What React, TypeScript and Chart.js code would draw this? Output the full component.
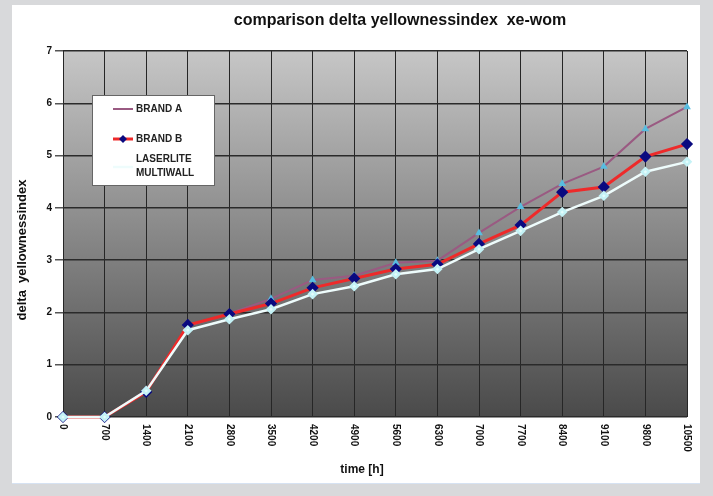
import React, { useEffect, useRef } from "react";
import { Chart, registerables } from "chart.js";

Chart.register(...registerables);

const chartTitle = "comparison delta yellownessindex  xe-wom";
const yAxisTitle = "delta  yellownessindex";
const xAxisTitle = "time [h]";

const categories = ["0", "700", "1400", "2100", "2800", "3500", "4200", "4900", "5600", "6300", "7000", "7700", "8400", "9100", "9800", "10500"];
const brandA = [0, 0, 0.5, 1.74, 1.98, 2.26, 2.62, 2.7, 2.95, 2.99, 3.52, 4.02, 4.46, 4.79, 5.51, 5.93];
const brandB = [0, 0, 0.48, 1.76, 1.97, 2.17, 2.47, 2.65, 2.83, 2.92, 3.31, 3.67, 4.3, 4.4, 4.98, 5.22];
const laserlite = [0, 0, 0.5, 1.66, 1.87, 2.06, 2.35, 2.5, 2.73, 2.83, 3.21, 3.56, 3.92, 4.23, 4.69, 4.88];
const seriesLabels = ["BRAND A", "BRAND B", "LASERLITE MULTIWALL"];
const yTicks = [0, 1, 2, 3, 4, 5, 6, 7];

const FONT = "'Liberation Sans', Arial, sans-serif";

const decor = {
  id: "decor",
  beforeDraw(chart: any) {
    const { ctx, chartArea: a } = chart;
    const g = ctx.createLinearGradient(0, a.top, 0, a.bottom);
    g.addColorStop(0, "#c6c6c6");
    g.addColorStop(1, "#4a4a4a");
    ctx.save();
    ctx.fillStyle = g;
    ctx.fillRect(a.left, a.top, a.right - a.left, a.bottom - a.top);
    ctx.restore();
  },
  afterDraw(chart: any) {
    const { ctx, chartArea: a } = chart;
    const xs = chart.scales.x;
    ctx.save();
    ctx.fillStyle = "#111";
    ctx.font = `bold 16px ${FONT}`;
    ctx.textAlign = "center";
    ctx.textBaseline = "middle";
    ctx.fillText(chartTitle, 388, 16);
    ctx.save();
    ctx.translate(10, 245);
    ctx.rotate(-Math.PI / 2);
    ctx.font = `bold 13px ${FONT}`;
    ctx.fillText(yAxisTitle, 0, 0);
    ctx.restore();
    ctx.font = `bold 12px ${FONT}`;
    ctx.fillText(xAxisTitle, 350, 465);
    ctx.font = `bold 10px ${FONT}`;
    ctx.textAlign = "left";
    categories.forEach((c, i) => {
      const x = xs.getPixelForValue(i);
      ctx.save();
      ctx.translate(x, a.bottom + 7);
      ctx.rotate(Math.PI / 2);
      ctx.fillText(c, 0, 0);
      ctx.restore();
    });
    const L = 80, T = 90, W = 122, H = 90;
    ctx.fillStyle = "#fff";
    ctx.fillRect(L, T, W, H);
    ctx.strokeStyle = "#666";
    ctx.lineWidth = 1;
    ctx.strokeRect(L + 0.5, T + 0.5, W, H);
    const rows = [104, 134, 162];
    chart.data.datasets.forEach((ds: any, i: number) => {
      const y = rows[i];
      ctx.strokeStyle = ds.borderColor;
      ctx.lineWidth = ds.borderWidth;
      ctx.beginPath();
      ctx.moveTo(L + 21, y);
      ctx.lineTo(L + 41, y);
      ctx.stroke();
      if (i === 1) {
        ctx.fillStyle = ds.pointBackgroundColor;
        ctx.beginPath();
        ctx.moveTo(L + 31, y - 4);
        ctx.lineTo(L + 35, y);
        ctx.lineTo(L + 31, y + 4);
        ctx.lineTo(L + 27, y);
        ctx.closePath();
        ctx.fill();
      }
      ctx.fillStyle = "#222";
      ctx.font = `bold 10px ${FONT}`;
      ctx.textAlign = "left";
      ctx.textBaseline = "middle";
      const parts = String(ds.label).split(" ");
      if (parts.length > 1 && i === 2) {
        ctx.fillText(parts[0], L + 44, y - 8);
        ctx.fillText(parts.slice(1).join(" "), L + 44, y + 6);
      } else {
        ctx.fillText(ds.label, L + 44, y);
      }
    });
    ctx.restore();
  },
};

export default function App() {
  const ref = useRef<HTMLCanvasElement | null>(null);
  useEffect(() => {
    if (!ref.current) return;
    const chart = new Chart(ref.current, {
      type: "line",
      data: {
        labels: categories,
        datasets: [
          {
            label: seriesLabels[0],
            data: brandA,
            borderColor: "#9a5a82",
            borderWidth: 2,
            pointStyle: "triangle",
            pointRadius: 2.5,
            pointBackgroundColor: "#58bde0",
            pointBorderColor: "#58bde0",
            clip: false,
            order: 2,
          } as any,
          {
            label: seriesLabels[1],
            data: brandB,
            borderColor: "#ee2a2a",
            borderWidth: 3,
            pointStyle: "rectRot",
            pointRadius: 4,
            pointBackgroundColor: "#0a0a80",
            pointBorderColor: "#0a0a80",
            clip: false,
            order: 1,
          },
          {
            label: seriesLabels[2],
            data: laserlite,
            borderColor: "#eefcfc",
            borderWidth: 2.5,
            pointStyle: "rectRot",
            pointRadius: 3.5,
            pointBackgroundColor: "#e4fcfc",
            pointBorderColor: "#c4f2f6",
            clip: false,
            order: 0,
          },
        ],
      },
      options: {
        responsive: false,
        animation: false,
        devicePixelRatio: 1,
        layout: { padding: { top: 46, right: 13, left: 0, bottom: 0 } },
        plugins: { legend: { display: false }, title: { display: false }, tooltip: { enabled: false } },
        elements: { line: { tension: 0 } },
        scales: {
          x: {
            type: "category",
            offset: false,
            ticks: { display: false },
            grid: { color: "#262626", lineWidth: 1, drawTicks: false },
            border: { display: false },
            afterFit: (s: any) => {
              s.height = 66;
            },
          },
          y: {
            min: 0,
            max: 7,
            afterBuildTicks: (s: any) => {
              s.ticks = yTicks.map((v) => ({ value: v }));
            },
            ticks: { color: "#111", font: { family: FONT, weight: "bold", size: 10 }, padding: 3 },
            grid: { color: "#2a2a2a", lineWidth: 1.5, tickLength: 8, tickColor: "#555" },
            border: { display: false },
            afterFit: (s: any) => {
              s.width = 51;
            },
          },
        },
      },
      plugins: [decor],
    });
    return () => chart.destroy();
  }, []);
  return (
    <div style={{ position: "fixed", left: 0, top: 0, width: 713, height: 496, background: "#d8d9db" }}>
      <div
        style={{
          position: "absolute",
          left: 12,
          top: 5,
          width: 688,
          height: 478,
          background: "#fff",
          borderBottom: "1px solid #d6e2f2",
        }}
      >
        <canvas ref={ref} width={688} height={478} style={{ display: "block" }} />
      </div>
    </div>
  );
}
